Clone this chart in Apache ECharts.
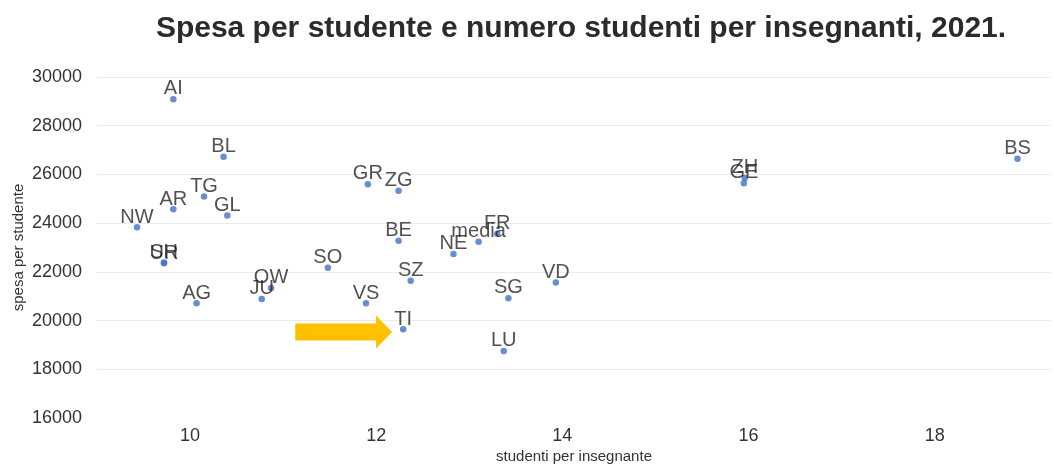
<!DOCTYPE html>
<html><head><meta charset="utf-8">
<script src="https://cdn.jsdelivr.net/npm/echarts@6/dist/echarts.min.js"></script>
<style>html,body{margin:0;padding:0;background:#fff}#c{width:1054px;height:464px}</style>
</head><body><div id="c"></div>
<script>
const names = ['AI','BL','TG','AR','GL','NW','SH','UR','AG','JU','OW','SO','GR','ZG','BE','NE','media','FR','SZ','VS','TI','SG','LU','VD','ZH','GE','BS'];
const studentiPerInsegnante = [9.82,10.36,10.15,9.82,10.40,9.43,9.72,9.72,10.07,10.77,10.87,11.48,11.91,12.24,12.24,12.83,13.10,13.30,12.37,11.89,12.29,13.42,13.37,13.93,15.96,15.95,18.89];
const spesaPerStudente = [29090,26730,25090,24570,24310,23830,22380,22350,20710,20890,21340,22170,25600,25330,23280,22730,23240,23560,21640,20710,19640,20920,18750,21560,25850,25640,26640];
const xTicks = [10,12,14,16,18];
const yTicks = [16000,18000,20000,22000,24000,26000,28000,30000];
const arrowFrom = [11.13, 19530];
const arrowTo = [12.17, 19530];

const chart = echarts.init(document.getElementById('c'));
const FONT = 'Liberation Sans, Arial, sans-serif';
const data = names.map((n,i)=>[studentiPerInsegnante[i], spesaPerStudente[i], n]);
chart.setOption({
  animation:false,
  textStyle:{fontFamily:FONT},
  title:{text:'Spesa per studente e numero studenti per insegnanti, 2021.',left:576,textAlign:'center',top:9,
    textStyle:{fontSize:30,fontWeight:'bold',color:'#2b2b2b',fontFamily:FONT}},
  grid:{left:97,right:3,top:77,bottom:46,containLabel:false,outerBoundsMode:'none'},
  xAxis:{type:'value',min:9,max:19.25,interval:1,
    axisLine:{show:false},axisTick:{show:false},splitLine:{show:false},
    axisLabel:{fontSize:18,color:'#333',margin:9,formatter:v=>xTicks.includes(v)?String(v):''},
    name:'studenti per insegnante',nameLocation:'middle',nameGap:31,nameMoveOverlap:false,
    nameTextStyle:{fontSize:15,color:'#333'}},
  yAxis:{type:'value',min:yTicks[0],max:yTicks[yTicks.length-1],interval:2000,
    axisLine:{show:false},axisTick:{show:false},
    splitLine:{show:true,showMinLine:false,lineStyle:{color:'#ebebeb',width:1}},
    axisLabel:{fontSize:18,color:'#333',margin:15,formatter:v=>String(v)},
    name:'spesa per studente',nameLocation:'middle',nameGap:71,nameMoveOverlap:false,
    nameTextStyle:{fontSize:15,color:'#333'}},
  series:[{type:'scatter',data:data,symbolSize:6.5,itemStyle:{color:'#4472C4'},
    label:{show:true,position:'top',distance:-3,formatter:p=>p.data[2],fontSize:20,color:'#262626'}}]
});
const a = chart.convertToPixel({gridIndex:0}, arrowFrom);
const b = chart.convertToPixel({gridIndex:0}, arrowTo);
const sh = 8.5, hh = 16.5, hl = 16;
chart.setOption({graphic:[{type:'polygon',z:10,shape:{points:[
  [a[0],a[1]-sh],[b[0]-hl,a[1]-sh],[b[0]-hl,a[1]-hh],[b[0],b[1]],[b[0]-hl,a[1]+hh],[b[0]-hl,a[1]+sh],[a[0],a[1]+sh]
]},style:{fill:'#FFC000'}}]});
</script></body></html>
